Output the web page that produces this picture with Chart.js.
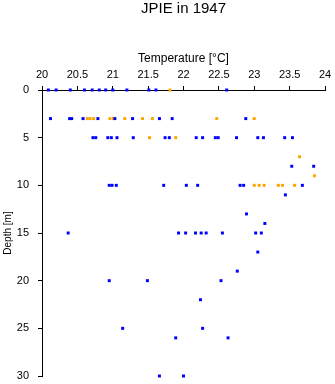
<!DOCTYPE html>
<html>
<head>
<meta charset="utf-8">
<script src="https://cdn.jsdelivr.net/npm/chart.js@4"></script>
<style>
  html, body { margin: 0; padding: 0; background: #fff; overflow: hidden; }
  canvas { display: block; }
</style>
</head>
<body>
<canvas id="profileChart" width="335" height="384"></canvas>
<script>
// Temperature / depth readings, blue series
const blueDepth = [
    0, 0, 0, 0, 0, 0, 0, 0, 0, 0, 0, 0,
    3, 3, 3, 3, 3, 3, 3, 3, 3, 3,
    5, 5, 5, 5, 5, 5, 5, 5, 5, 5, 5, 5, 5, 5, 5, 5, 5,
    8, 8,
    10, 10, 10, 10, 10, 10, 10, 10, 10,
    11, 13, 14,
    15, 15, 15, 15, 15, 15, 15, 15, 15,
    17, 19,
    20, 20, 20,
    22,
    25, 25,
    26, 26,
    30, 30
];
const blueTemp = [
    20.09, 20.20, 20.40, 20.60, 20.71, 20.81, 20.90, 21.00, 21.20, 21.51, 21.61, 22.61,
    20.12, 20.39, 20.42, 20.58, 20.79, 21.03, 21.28, 21.66, 21.84, 22.88,
    20.72, 20.76, 20.93, 20.98, 21.06, 21.29, 21.74, 21.80, 22.18, 22.27, 22.45, 22.49, 22.75, 23.05, 23.13, 23.43, 23.54,
    23.53, 23.84,
    20.95, 20.99, 21.05, 21.72, 22.04, 22.20, 22.80, 22.85, 23.68,
    23.44, 22.89, 23.15,
    20.37, 21.93, 22.03, 22.17, 22.25, 22.32, 22.55, 23.02, 23.10,
    23.05, 22.76,
    20.95, 21.49, 22.53,
    22.24,
    21.14, 22.27,
    21.89, 22.63,
    21.66, 22.00
];

// orange series
const orangeDepth = [
    0,
    3, 3, 3, 3, 3, 3, 3, 3, 3, 3,
    5, 5,
    7, 9,
    10, 10, 10, 10, 10, 10
];
const orangeTemp = [
    21.81,
    20.64, 20.68, 20.73, 20.96, 21.01, 21.17, 21.42, 21.56, 22.47, 23.00,
    21.52, 21.89,
    23.64, 23.85,
    23.00, 23.07, 23.14, 23.34, 23.40, 23.57
];

const xTicks = [20, 20.5, 21, 21.5, 22, 22.5, 23, 23.5, 24];
const yTicks = [0, 5, 10, 15, 20, 25, 30];

function toPoints(temps, depths) {
    return temps.map((t, i) => ({ x: t, y: depths[i] }));
}

const fuente = "'Liberation Sans', Arial, Helvetica, sans-serif";

const ctx = document.getElementById('profileChart').getContext('2d');
new Chart(ctx, {
    type: 'scatter',
    data: {
        datasets: [{
            label: 'blue',
            data: toPoints(blueTemp, blueDepth),
            backgroundColor: '#0000ff',
            borderWidth: 0,
            pointStyle: 'rect',
            pointRadius: 2.1,
            clip: false
        }, {
            label: 'orange',
            data: toPoints(orangeTemp, orangeDepth),
            backgroundColor: '#ffa500',
            borderWidth: 0,
            pointStyle: 'rect',
            pointRadius: 2.1,
            clip: false
        }]
    },
    options: {
        responsive: false,
        animation: false,
        layout: { padding: { left: 0, right: 10, top: 0, bottom: 8 } },
        plugins: {
            legend: { display: false },
            tooltip: { enabled: false },
            title: {
                display: true,
                fullSize: false, // centrado sobre el área del gráfico
                text: 'JPIE in 1947',
                color: '#000',
                font: { family: fuente, size: 15, weight: 'normal', lineHeight: '17px' },
                padding: { top: 0, bottom: 5 }
            }
        },
        scales: {
            x: {
                type: 'linear',
                position: 'top',
                min: 20,
                max: 24,
                afterBuildTicks: scale => { scale.ticks = xTicks.map(v => ({ value: v })); },
                afterFit: scale => {
                    scale.height = 68;
                    scale.paddingLeft = 0;
                    scale.paddingRight = 0;
                },
                ticks: {
                    color: '#000',
                    font: { family: fuente, size: 11 },
                    padding: 4,
                    autoSkip: false,
                    maxRotation: 0,
                    callback: v => String(v)
                },
                grid: { drawOnChartArea: false, drawTicks: true, tickLength: 4, color: '#000' },
                border: { display: true, color: '#000', width: 1 },
                title: {
                    display: true,
                    text: 'Temperature [°C]',
                    color: '#000',
                    font: { family: fuente, size: 12, lineHeight: '14px' },
                    padding: { top: 30, bottom: 0 }
                }
            },
            y: {
                type: 'linear',
                reverse: true,
                min: 0,
                max: 30,
                afterBuildTicks: scale => { scale.ticks = yTicks.map(v => ({ value: v })); },
                afterFit: scale => {
                    scale.width = 42;
                    scale.paddingTop = 0;
                    scale.paddingBottom = 0;
                },
                ticks: {
                    color: '#000',
                    font: { family: fuente, size: 11 },
                    padding: 9,
                    callback: v => String(v)
                },
                grid: { drawOnChartArea: false, drawTicks: true, tickLength: 4, color: '#000' },
                border: { display: true, color: '#000', width: 1 },
                title: {
                    display: true,
                    text: 'Depth [m]',
                    color: '#000',
                    font: { family: fuente, size: 10, lineHeight: '12px' },
                    padding: { top: 2, bottom: 0 }
                }
            }
        }
    }
});
</script>
</body>
</html>
